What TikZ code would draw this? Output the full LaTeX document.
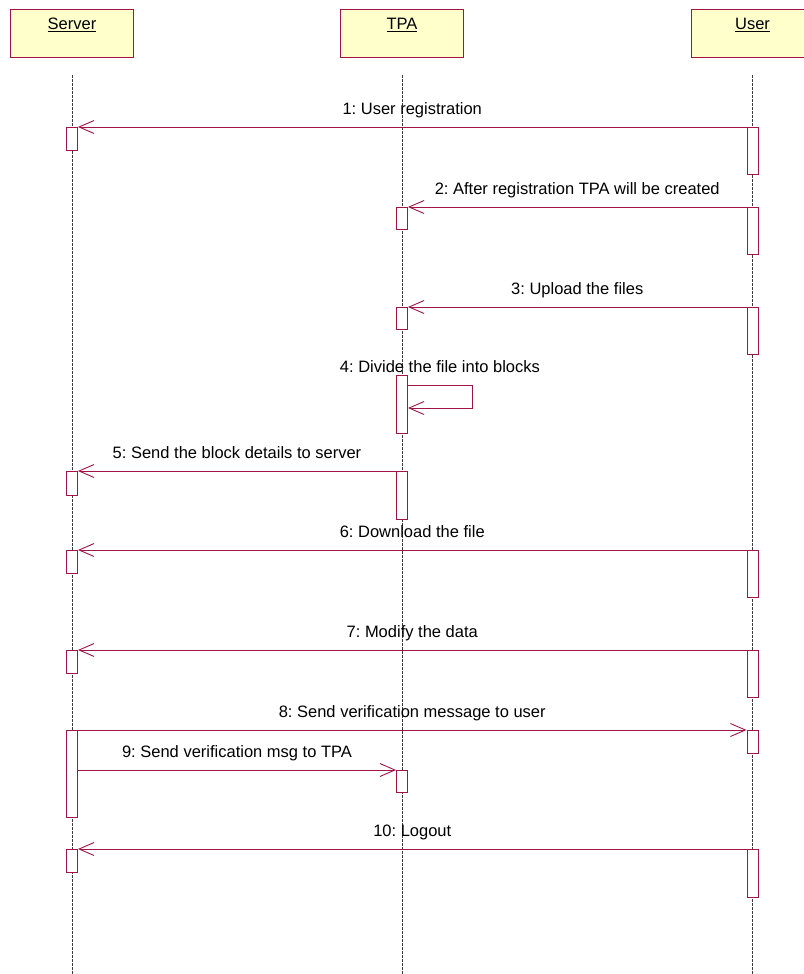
\documentclass[tikz,border=0pt]{standalone}
\usepackage{fontspec}
\setmainfont{Liberation Sans}
\usetikzlibrary{arrows.meta,calc}
\definecolor{msgc}{RGB}{160,20,70}
\definecolor{headfill}{RGB}{255,255,204}
\definecolor{lifec}{RGB}{60,60,60}
\frenchspacing
% activation bar: name, x, top, bottom
\newcommand\actbar[4]{\node[actbox, minimum height={(#4-#3)*1pt}] (#1) at (#2,#3) {};}
\begin{document}
\begin{tikzpicture}[x=1pt,y=-1pt,
  every node/.style={font=\fontsize{16.5}{19}\selectfont},
  headbox/.style={draw=msgc, fill=headfill, line width=1pt, minimum width=123pt,
                  minimum height=48pt, inner sep=0pt, anchor=north},
  headtxt/.style={anchor=base, inner sep=0pt},
  life/.style={draw=lifec, line width=0.7pt, dash pattern=on 3pt off 1pt},
  actbox/.style={draw=msgc, fill=white, line width=0.9pt, minimum width=11pt,
                 inner sep=0pt, anchor=north},
  msg/.style={draw=msgc, line width=0.9pt, -{Straight Barb[length=15pt,width=13pt,line width=0.9pt]}},
  lbl/.style={anchor=base, inner sep=0pt}
]
\useasboundingbox (0,0) rectangle (803,974);

% object heads
\node[headbox] (srv) at (72,9) {};
\node[headbox] (tpa) at (402,9) {};
\node[headbox] (usr) at (752.5,9) {};
\node[headtxt] (srvt) at (72,30) {\underline{Server}};
\node[headtxt] (tpat) at (402,30) {\underline{TPA}};
\node[headtxt] (usrt) at (752.5,30) {\underline{User}};

% lifelines
\coordinate (sTop) at (72,75);   \coordinate (sBot) at (72,974);
\coordinate (tTop) at (402,75);  \coordinate (tBot) at (402,974);
\coordinate (uTop) at (752.5,75);\coordinate (uBot) at (752.5,974);
\draw[life] (sTop) -- (sBot);
\draw[life] (tTop) -- (tBot);
\draw[life] (uTop) -- (uBot);

% activation bars
\actbar{s1}{72}{127}{150}
\actbar{s5}{72}{471}{495}
\actbar{s6}{72}{550}{573}
\actbar{s7}{72}{650}{673}
\actbar{s8}{72}{730}{817}
\actbar{s10}{72}{849}{872}

\actbar{t2}{402}{207}{229}
\actbar{t3}{402}{307}{329}
\actbar{t4}{402}{375}{433}
\actbar{t5}{402}{471}{519}
\actbar{t9}{402}{770}{792}

\actbar{u1}{752.5}{127}{174}
\actbar{u2}{752.5}{207}{254}
\actbar{u3}{752.5}{307}{354}
\actbar{u6}{752.5}{550}{597}
\actbar{u7}{752.5}{650}{697}
\actbar{u8}{752.5}{730}{753}
\actbar{u10}{752.5}{849}{897}

% messages
\draw[msg] (u1.north west) -- (s1.north east);
\node[lbl] (m1) at ($(u1.north west)!0.5!(s1.north east)+(0,-13)$) {1: User registration};

\draw[msg] (u2.north west) -- (t2.north east);
\node[lbl] (m2) at ($(u2.north west)!0.5!(t2.north east)+(0,-13)$) {2: After registration TPA will be created};

\draw[msg] (u3.north west) -- (t3.north east);
\node[lbl] (m3) at ($(u3.north west)!0.5!(t3.north east)+(0,-13)$) {3: Upload the files};

\coordinate (loopA) at ([yshift=-10pt]t4.north east);
\coordinate (loopB) at ([yshift=-33pt]t4.north east);
\draw[msg] (loopA) -- ++(64,0) |- (loopB);
\node[lbl] (m4) at ($(loopA)+(32,-13)$) {4: Divide the file into blocks};

\draw[msg] (t5.north west) -- (s5.north east);
\node[lbl] (m5) at ($(t5.north west)!0.5!(s5.north east)+(0,-13)$) {5: Send the block details to server};

\draw[msg] (u6.north west) -- (s6.north east);
\node[lbl] (m6) at ($(u6.north west)!0.5!(s6.north east)+(0,-13)$) {6: Download the file};

\draw[msg] (u7.north west) -- (s7.north east);
\node[lbl] (m7) at ($(u7.north west)!0.5!(s7.north east)+(0,-13)$) {7: Modify the data};

\draw[msg] (s8.north east) -- (u8.north west);
\node[lbl] (m8) at ($(s8.north east)!0.5!(u8.north west)+(0,-13)$) {8: Send verification message to user};

\draw[msg] (s8.east |- t9.north) -- (t9.north west);
\node[lbl] (m9) at ($(s8.east |- t9.north)!0.5!(t9.north west)+(0,-13)$) {9: Send verification msg to TPA};

\draw[msg] (u10.north west) -- (s10.north east);
\node[lbl] (m10) at ($(u10.north west)!0.5!(s10.north east)+(0,-13)$) {10: Logout};
\end{tikzpicture}
\end{document}
